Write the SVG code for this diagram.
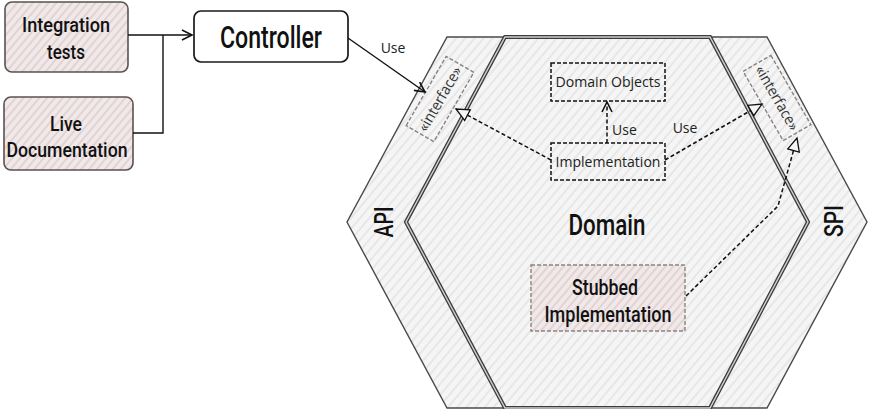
<svg xmlns="http://www.w3.org/2000/svg" width="880" height="409" viewBox="0 0 880 409">
<defs>
<pattern id="hatchGrey" patternUnits="userSpaceOnUse" width="7" height="7" patternTransform="rotate(-50)">
<rect width="7" height="7" fill="#f5f5f5"/>
<line x1="0" y1="3" x2="7" y2="3" stroke="#dedede" stroke-width="1.2"/>
</pattern>
<pattern id="hatchPink" patternUnits="userSpaceOnUse" width="6" height="6" patternTransform="rotate(-50)">
<rect width="6" height="6" fill="#f1e9e9"/>
<line x1="0" y1="3" x2="6" y2="3" stroke="#d8c5c5" stroke-width="1.2"/>
</pattern>
<marker id="open" markerUnits="userSpaceOnUse" markerWidth="14" markerHeight="14" refX="11" refY="6" orient="auto">
<path d="M1,1 L11,6 L1,11" fill="none" stroke="#111" stroke-width="1.6"/>
</marker>
<marker id="tri" markerUnits="userSpaceOnUse" markerWidth="16" markerHeight="16" refX="14" refY="7" orient="auto">
<path d="M1,1 L14,7 L1,13 Z" fill="#f5f5f5" stroke="#111" stroke-width="1.3"/>
</marker>
<style>
.cond{font-family:"Roboto","DejaVu Sans Condensed","Liberation Sans",sans-serif;font-weight:500;fill:#111;}
.small{font-family:"Open Sans","Noto Sans","DejaVu Sans",sans-serif;font-size:14px;fill:#222;}
.iface{font-family:"Open Sans","Noto Sans","DejaVu Sans",sans-serif;font-size:15px;fill:#333;}
.pinkbox{fill:url(#hatchPink);stroke:#5a5252;stroke-width:1.6;}
.dashbox{fill:none;stroke:#111;stroke-width:1.5;stroke-dasharray:4 2;}
.ifbox{fill:none;stroke:#8c8282;stroke-width:1.4;stroke-dasharray:4 2;}
.conn{fill:none;stroke:#111;stroke-width:1.4;}
.dconn{fill:none;stroke:#111;stroke-width:1.5;stroke-dasharray:4 2.5;}
</style>
</defs>

<g id="hexagon-ports">
<polygon points="447,37 767,37 867,222 767,408 447,408 347,222" fill="url(#hatchGrey)" stroke="#4a4a4a" stroke-width="1.4"/>
<text class="cond" font-size="25" text-anchor="middle" textLength="31" lengthAdjust="spacingAndGlyphs" transform="translate(393,222) rotate(-90)">API</text>
<text class="cond" font-size="25" text-anchor="middle" textLength="32" lengthAdjust="spacingAndGlyphs" transform="translate(843,221) rotate(-90)">SPI</text>
</g>

<g id="domain">
<polygon points="505,37 710,37 808,222 710,408 505,408 406,222" fill="url(#hatchGrey)" stroke="#3c3c3c" stroke-width="4"/>
<polygon points="505,37 710,37 808,222 710,408 505,408 406,222" fill="none" stroke="#cfcfcf" stroke-width="1.4"/>
<text class="cond" x="607" y="235" font-size="30" text-anchor="middle" textLength="77" lengthAdjust="spacingAndGlyphs">Domain</text>
</g>

<g id="integration-tests">
<rect x="5" y="2" width="123" height="70" rx="7" class="pinkbox"/>
<text class="cond" x="66" y="32" font-size="21" text-anchor="middle" textLength="88" lengthAdjust="spacingAndGlyphs">Integration</text>
<text class="cond" x="66" y="59" font-size="21" text-anchor="middle" textLength="38" lengthAdjust="spacingAndGlyphs">tests</text>
</g>

<g id="live-documentation">
<rect x="4" y="97" width="129" height="73" rx="7" class="pinkbox"/>
<text class="cond" x="66" y="131" font-size="21" text-anchor="middle" textLength="32" lengthAdjust="spacingAndGlyphs">Live</text>
<text class="cond" x="67" y="157" font-size="21" text-anchor="middle" textLength="121" lengthAdjust="spacingAndGlyphs">Documentation</text>
</g>

<g id="controller">
<rect x="194" y="11" width="154" height="51" rx="7" fill="#fff" stroke="#1a1a1a" stroke-width="1.7"/>
<text class="cond" x="271" y="48" font-size="31" text-anchor="middle" textLength="102" lengthAdjust="spacingAndGlyphs">Controller</text>
</g>

<g id="api-interface">
<g transform="translate(440,99) rotate(-60)">
<rect x="-40" y="-16" width="80" height="32" class="ifbox"/>
<text class="iface" x="0" y="5" text-anchor="middle" textLength="72" lengthAdjust="spacingAndGlyphs">«interface»</text>
</g>
</g>

<g id="spi-interface">
<g transform="translate(777,98) rotate(60)">
<rect x="-40" y="-16" width="80" height="32" class="ifbox"/>
<text class="iface" x="0" y="5" text-anchor="middle" textLength="72" lengthAdjust="spacingAndGlyphs">«interface»</text>
</g>
</g>

<g id="domain-objects">
<rect x="551" y="63" width="114" height="38" class="dashbox"/>
<text class="small" x="608" y="87" text-anchor="middle" textLength="105" lengthAdjust="spacingAndGlyphs">Domain Objects</text>
</g>

<g id="implementation">
<rect x="551" y="143" width="114" height="37" class="dashbox"/>
<text class="small" x="608" y="167" text-anchor="middle" textLength="105" lengthAdjust="spacingAndGlyphs">Implementation</text>
</g>

<g id="stubbed-implementation">
<rect x="531" y="265" width="154" height="66" fill="url(#hatchPink)" stroke="#8c8282" stroke-width="1.4" stroke-dasharray="4 2"/>
<text class="cond" x="605" y="295" font-size="22" text-anchor="middle" textLength="66" lengthAdjust="spacingAndGlyphs">Stubbed</text>
<text class="cond" x="608" y="322" font-size="22" text-anchor="middle" textLength="127" lengthAdjust="spacingAndGlyphs">Implementation</text>
</g>

<g id="connectors">
<path class="conn" d="M128,35 H192" marker-end="url(#open)"/>
<path class="conn" d="M133,133 H163 V35"/>
<path class="conn" d="M348,38 L425,92" marker-end="url(#open)"/>
<text class="small" x="393" y="53" text-anchor="middle" font-size="13">Use</text>
<path class="dconn" d="M607,143 V102" marker-end="url(#open)"/>
<text class="small" x="612" y="135" font-size="13">Use</text>
<path class="dconn" d="M551,160 L456,109" marker-end="url(#tri)"/>
<path class="dconn" d="M665,160 L762,104" marker-end="url(#tri)"/>
<text class="small" x="685" y="133" text-anchor="middle" font-size="13">Use</text>
<path class="dconn" d="M686,296 L778,206 L797,138" marker-end="url(#tri)"/>
</g>
</svg>
